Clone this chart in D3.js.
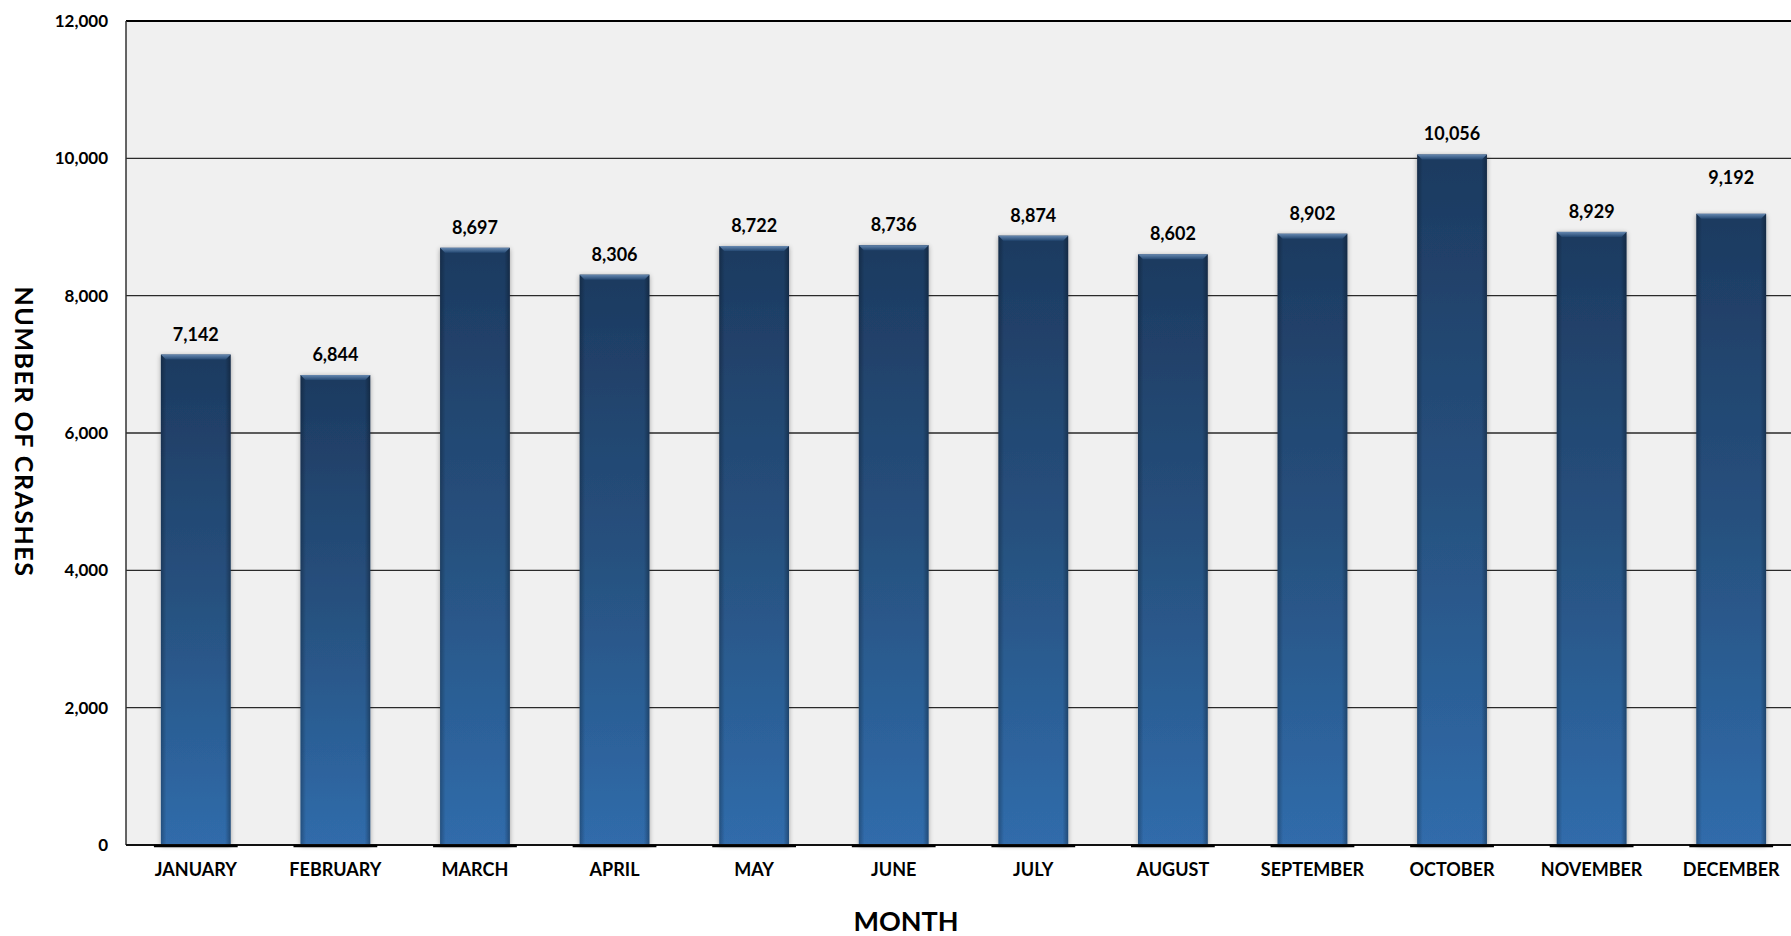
<!DOCTYPE html>
<html>
<head>
<meta charset="utf-8">
<script src="https://cdn.jsdelivr.net/npm/d3@7"></script>
<style>
  html, body { margin: 0; padding: 0; background: #ffffff; }
  svg { display: block; }
  text { font-family: "Lato", "DejaVu Sans", sans-serif; font-weight: 700; fill: #000; }
</style>
</head>
<body>
<svg id="chart" width="1791" height="936"></svg>
<script>
// Monthly crash counts
const months = ["JANUARY", "FEBRUARY", "MARCH", "APRIL", "MAY", "JUNE",
                "JULY", "AUGUST", "SEPTEMBER", "OCTOBER", "NOVEMBER", "DECEMBER"];
const crashes = [7142, 6844, 8697, 8306, 8722, 8736, 8874, 8602, 8902, 10056, 8929, 9192];
const yTicks = [0, 2000, 4000, 6000, 8000, 10000, 12000];

const svg = d3.select("#chart");
const plot = { left: 126, top: 21, right: 1801, bottom: 845 };
// extra lift for labels that sit higher than the default gap
const labelLift = { DECEMBER: 16 };

const x = d3.scaleBand().domain(months).range([plot.left, plot.right]).paddingInner(0.5).paddingOuter(0.25);
const y = d3.scaleLinear().domain([0, 12000]).range([plot.bottom, plot.top]);
const fmt = d3.format(",");

const defs = svg.append("defs");
const grad = defs.append("linearGradient").attr("id", "barFill")
  .attr("x1", 0).attr("y1", 0).attr("x2", 0).attr("y2", 1);
grad.append("stop").attr("offset", "0%").attr("stop-color", "#1d3a60");
grad.append("stop").attr("offset", "50%").attr("stop-color", "#27517f");
grad.append("stop").attr("offset", "100%").attr("stop-color", "#306cab");

const bevel = defs.append("linearGradient").attr("id", "bevelFill")
  .attr("x1", 0).attr("y1", 0).attr("x2", 0).attr("y2", 1);
bevel.append("stop").attr("offset", "0%").attr("stop-color", "#6688b0");
bevel.append("stop").attr("offset", "100%").attr("stop-color", "#244872");

const edge = defs.append("linearGradient").attr("id", "edgeFill")
  .attr("x1", 0).attr("y1", 0).attr("x2", 1).attr("y2", 0);
edge.append("stop").attr("offset", "0%").attr("stop-color", "#000").attr("stop-opacity", 0.25);
edge.append("stop").attr("offset", "8%").attr("stop-color", "#000").attr("stop-opacity", 0);
edge.append("stop").attr("offset", "92%").attr("stop-color", "#000").attr("stop-opacity", 0);
edge.append("stop").attr("offset", "100%").attr("stop-color", "#000").attr("stop-opacity", 0.3);

const shadow = defs.append("filter").attr("id", "barShadow")
  .attr("x", "-20%").attr("y", "-10%").attr("width", "140%").attr("height", "120%");
shadow.append("feGaussianBlur").attr("in", "SourceAlpha").attr("stdDeviation", 2.5).attr("result", "b");
shadow.append("feOffset").attr("in", "b").attr("dx", 0).attr("dy", 1).attr("result", "o");
shadow.append("feComponentTransfer").attr("in", "o").attr("result", "s")
  .append("feFuncA").attr("type", "linear").attr("slope", 0.35);
const merge = shadow.append("feMerge");
merge.append("feMergeNode").attr("in", "s");
merge.append("feMergeNode").attr("in", "SourceGraphic");

// plot background
svg.append("rect")
  .attr("x", plot.left).attr("y", plot.top)
  .attr("width", plot.right - plot.left).attr("height", plot.bottom - plot.top)
  .attr("fill", "#f0f0f0");

// gridlines
svg.append("g").selectAll("line").data(yTicks.filter(d => d > 0 && d < 12000)).join("line")
  .attr("x1", plot.left).attr("x2", plot.right)
  .attr("y1", d => y(d)).attr("y2", d => y(d))
  .attr("stroke", "#2a2a2a").attr("stroke-width", 1.3);

// top and left borders
svg.append("line").attr("x1", plot.left).attr("x2", plot.right)
  .attr("y1", plot.top).attr("y2", plot.top).attr("stroke", "#000").attr("stroke-width", 2);
svg.append("line").attr("x1", plot.left).attr("x2", plot.left)
  .attr("y1", plot.top).attr("y2", plot.bottom).attr("stroke", "#333").attr("stroke-width", 1.5);

// bars
const bars = svg.append("g").selectAll("g").data(months).join("g");
const bw = x.bandwidth();
bars.append("rect")
  .attr("x", d => x(d)).attr("y", (d, i) => y(crashes[i]))
  .attr("width", bw).attr("height", (d, i) => y(0) - y(crashes[i]))
  .attr("fill", "url(#barFill)").attr("filter", "url(#barShadow)");
bars.append("rect")
  .attr("x", d => x(d)).attr("y", (d, i) => y(crashes[i]))
  .attr("width", bw).attr("height", (d, i) => y(0) - y(crashes[i]))
  .attr("fill", "url(#edgeFill)");
const bv = 5;
bars.append("path")
  .attr("d", (d, i) => {
    const x0 = x(d), x1 = x(d) + bw, t = y(crashes[i]);
    return `M${x0},${t} L${x1},${t} L${x1 - bv},${t + bv} L${x0 + bv},${t + bv} Z`;
  })
  .attr("fill", "url(#bevelFill)");

// baseline with darker segments under bars
svg.append("line").attr("x1", plot.left).attr("x2", plot.right)
  .attr("y1", plot.bottom).attr("y2", plot.bottom).attr("stroke", "#111").attr("stroke-width", 2);
svg.append("g").selectAll("line").data(months).join("line")
  .attr("x1", d => x(d) - 7).attr("x2", d => x(d) + bw + 7)
  .attr("y1", plot.bottom + 1).attr("y2", plot.bottom + 1)
  .attr("stroke", "#000").attr("stroke-width", 2.5);

// value labels
svg.append("g").selectAll("text").data(months).join("text")
  .attr("x", d => x(d) + bw / 2)
  .attr("y", (d, i) => y(crashes[i]) - 14 - (labelLift[d] || 0))
  .attr("text-anchor", "middle")
  .attr("font-size", 18)
  .text((d, i) => fmt(crashes[i]));

// y tick labels
svg.append("g").selectAll("text").data(yTicks).join("text")
  .attr("x", 108).attr("y", d => y(d))
  .attr("dy", "0.36em")
  .attr("text-anchor", "end")
  .attr("font-size", 17)
  .text(d => fmt(d));

// category labels
svg.append("g").selectAll("text").data(months).join("text")
  .attr("x", d => x(d) + bw / 2).attr("y", 876)
  .attr("text-anchor", "middle")
  .attr("font-size", 18)
  .text(d => d);

// axis titles
svg.append("text")
  .attr("x", 906).attr("y", 931)
  .attr("text-anchor", "middle")
  .attr("font-size", 27)
  .text("MONTH");
svg.append("text")
  .attr("transform", "translate(15,432) rotate(90)")
  .attr("text-anchor", "middle")
  .attr("font-size", 25)
  .attr("letter-spacing", 1.5)
  .text("NUMBER OF CRASHES");
</script>
</body>
</html>
